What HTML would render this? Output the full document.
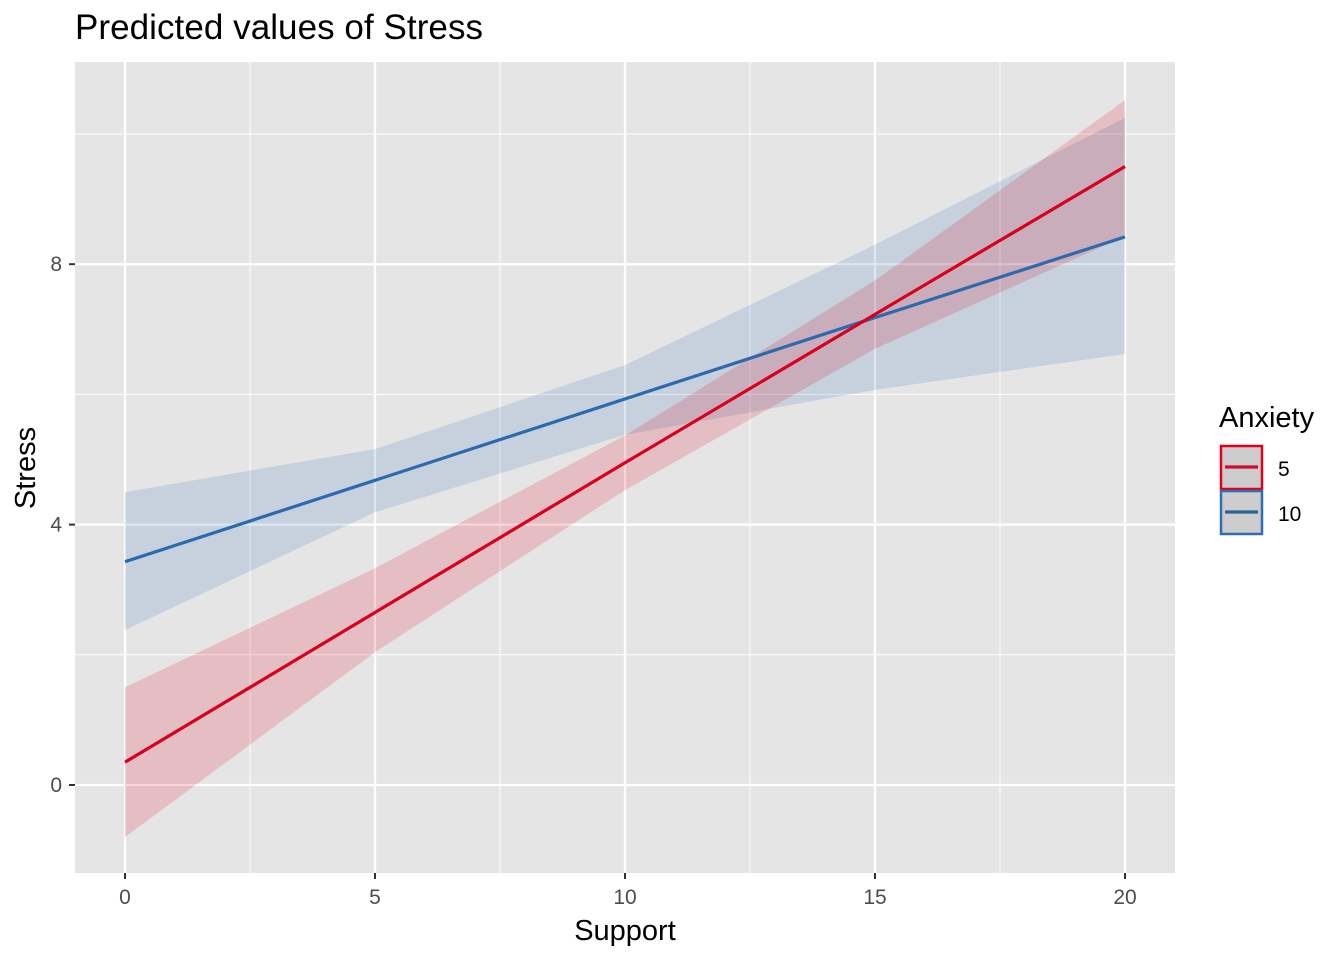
<!DOCTYPE html>
<html><head><meta charset="utf-8"><style>
body{margin:0;background:#fff;font-family:"Liberation Sans",Arial,sans-serif}
svg text{font-family:"Liberation Sans",Arial,sans-serif}
</style></head><body>
<svg id="c" width="1344" height="960" xmlns="http://www.w3.org/2000/svg">
<text x="75" y="39" font-size="35" fill="#000" textLength="408">Predicted values of Stress</text>
<rect x="75" y="62" width="1100" height="811" fill="#e5e5e5"/>
<g id="grid"></g>
<g id="bands"></g>
<g id="lines"></g>
<g id="axes"></g>
<text x="625" y="940" font-size="29" text-anchor="middle">Support</text>
<text transform="translate(35,468) rotate(-90)" font-size="29" text-anchor="middle">Stress</text>
<text x="1219" y="427" font-size="29">Anxiety</text>
<g>
<rect x="1221" y="446" width="41" height="43" fill="#cccccc" stroke="#e0001a" stroke-width="2.5"/>
<line x1="1225" y1="467" x2="1258" y2="467" stroke="#c8102e" stroke-width="3.2"/>
<text x="1278" y="476" font-size="21">5</text></g>
<g>
<rect x="1221" y="491" width="41" height="43" fill="#cccccc" stroke="#2f6eb5" stroke-width="2.5"/>
<line x1="1225" y1="512" x2="1258" y2="512" stroke="#2d5f9a" stroke-width="3.2"/>
<text x="1278" y="521" font-size="21">10</text></g>
</svg>
<script>
const xs=[0,5,10,15,20];
const redFit=[0.35,2.65,4.95,7.23,9.5];
const redLo=[-0.8,2.04,4.53,6.7,8.43];
const redHi=[1.5,3.33,5.37,7.75,10.52];
const blueFit=[3.43,4.68,5.93,7.18,8.42];
const blueLo=[2.38,4.19,5.38,6.07,6.62];
const blueHi=[4.5,5.16,6.45,8.3,10.25];
const xTicks=[0,5,10,15,20];
const yTicks=[0,4,8];
const X=v=>125+v*50, Y=v=>785-v*65.1;
const NS="http://www.w3.org/2000/svg";
function mk(p,t,a){const e=document.createElementNS(NS,t);for(const k in a)e.setAttribute(k,a[k]);document.getElementById(p).appendChild(e);return e;}
for(let v=-2.5;v<=22.5;v+=2.5){const x=X(v);if(x<75||x>1175)continue;
 const g=mk('grid','line',{x1:x,x2:x,y1:62,y2:873,stroke:'#fff','stroke-width':v%5===0?2.2:1});
 
 }
for(let v=-2;v<=12;v+=2){const y=Y(v);if(y<62||y>873)continue;
 const g=mk('grid','line',{x1:75,x2:1175,y1:y,y2:y,stroke:'#fff','stroke-width':v%4===0?2.2:1});
 
 }
function band(lo,hi,col,name){let d='M'+xs.map((x,i)=>X(x)+','+Y(hi[i])).join('L')+'L'+xs.slice().reverse().map((x,j)=>X(x)+','+Y(lo[xs.length-1-j])).join('L')+'Z';
 const e=mk('bands','path',{d:d,fill:col,'fill-opacity':0.17});
 
 }
band(blueLo,blueHi,'#2f6eb5','band-10');
band(redLo,redHi,'#e0001a','band-5');
function line(f,col,name){const e=mk('lines','polyline',{points:xs.map((x,i)=>X(x)+','+Y(f[i])).join(' '),fill:'none',stroke:col,'stroke-width':3.2});
 
 }
line(blueFit,'#2d6aad','line-10');
line(redFit,'#d8001c','line-5');
xTicks.forEach(v=>{mk('axes','line',{x1:X(v),x2:X(v),y1:873,y2:879,stroke:'#333','stroke-width':2});
 const t=mk('axes','text',{x:X(v),y:904,'font-size':21,'text-anchor':'middle',fill:'#4d4d4d'});t.textContent=v;
 
 });
yTicks.forEach(v=>{mk('axes','line',{x1:69,x2:75,y1:Y(v),y2:Y(v),stroke:'#333','stroke-width':2});
 const t=mk('axes','text',{x:62,y:Y(v)+7,'font-size':21,'text-anchor':'end',fill:'#4d4d4d'});t.textContent=v;
 
 });
</script>
</body></html>
